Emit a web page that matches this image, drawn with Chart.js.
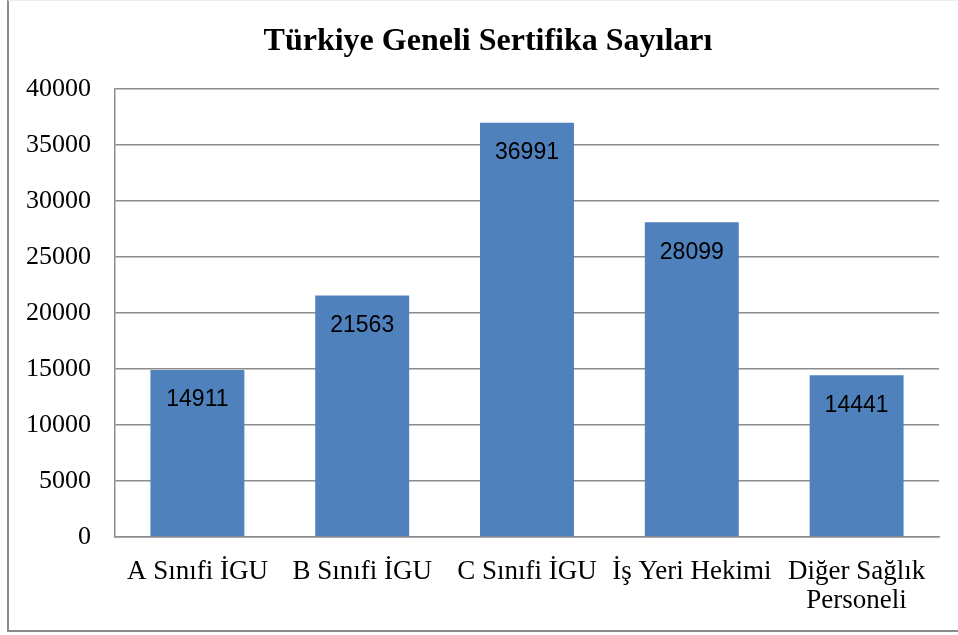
<!DOCTYPE html>
<html>
<head>
<meta charset="utf-8">
<script src="https://cdn.jsdelivr.net/npm/chart.js@4"></script>
<style>
  body { margin: 0; background: #fff; }
  #wrap { position: relative; width: 958px; height: 635px; overflow: hidden; }
  #frame { position: absolute; left: 7px; top: 0; width: 960px; height: 629px;
           border-left: 2px solid #8a8a8a; border-bottom: 2px solid #8a8a8a; border-top: 1px solid #eee; }
  canvas { position: absolute; left: 0; top: 0; }
</style>
</head>
<body>
<div id="wrap">
  <div id="frame"></div>
  <canvas id="chart" width="958" height="635"></canvas>
</div>
<script>
// certificate counts per category
const categories = ['A Sınıfi İGU', 'B Sınıfi İGU', 'C Sınıfi İGU', 'İş Yeri Hekimi', ['Diğer Sağlık', 'Personeli']];
const counts = [14911, 21563, 36991, 28099, 14441];
const yMax = 40000;
const yStep = 5000;
const chartTitle = 'Türkiye Geneli Sertifika Sayıları';

const serif = '"Liberation Serif", "Times New Roman", serif';

// value labels inside the top of each bar + title centred over the frame
const barLabels = {
  id: 'barLabels',
  afterDatasetsDraw(chart) {
    const ctx = chart.ctx;
    const meta = chart.getDatasetMeta(0);
    ctx.save();
    ctx.font = '23px "Liberation Sans", Arial, sans-serif';
    ctx.fillStyle = '#000';
    ctx.textAlign = 'center';
    ctx.textBaseline = 'middle';
    meta.data.forEach((bar, i) => {
      ctx.fillText(String(counts[i]), bar.x, bar.y + 30);
    });
    ctx.font = 'bold 32px ' + serif;
    ctx.fillText(chartTitle, 488, 42);
    ctx.restore();
  }
};

new Chart(document.getElementById('chart'), {
  type: 'bar',
  data: {
    labels: categories,
    datasets: [{
      data: counts,
      backgroundColor: '#4F81BD',
      borderWidth: 0,
      categoryPercentage: 1,
      barPercentage: 0.57
    }]
  },
  options: {
    responsive: false,
    animation: false,
    layout: { padding: { left: 0, right: 19, top: 89, bottom: 0 } },
    plugins: {
      legend: { display: false },
      tooltip: { enabled: false },
      title: { display: false }
    },
    scales: {
      y: {
        min: 0,
        max: yMax,
        ticks: {
          stepSize: yStep,
          color: '#000',
          padding: 24,
          font: { family: serif, size: 26 },
          callback: v => String(v)
        },
        grid: { color: '#8c8c8c', lineWidth: 1.5, drawTicks: false },
        border: { color: '#8c8c8c', width: 1.5 },
        afterFit(scale) { scale.width = 115; }
      },
      x: {
        ticks: {
          color: '#000',
          padding: 20,
          maxRotation: 0,
          autoSkip: false,
          font: { family: serif, size: 27, lineHeight: 1.08 }
        },
        grid: { display: false, drawTicks: false },
        border: { color: '#8c8c8c', width: 1.5 },
        afterFit(scale) { scale.height = 98; }
      }
    }
  },
  plugins: [barLabels]
});
</script>
</body>
</html>
